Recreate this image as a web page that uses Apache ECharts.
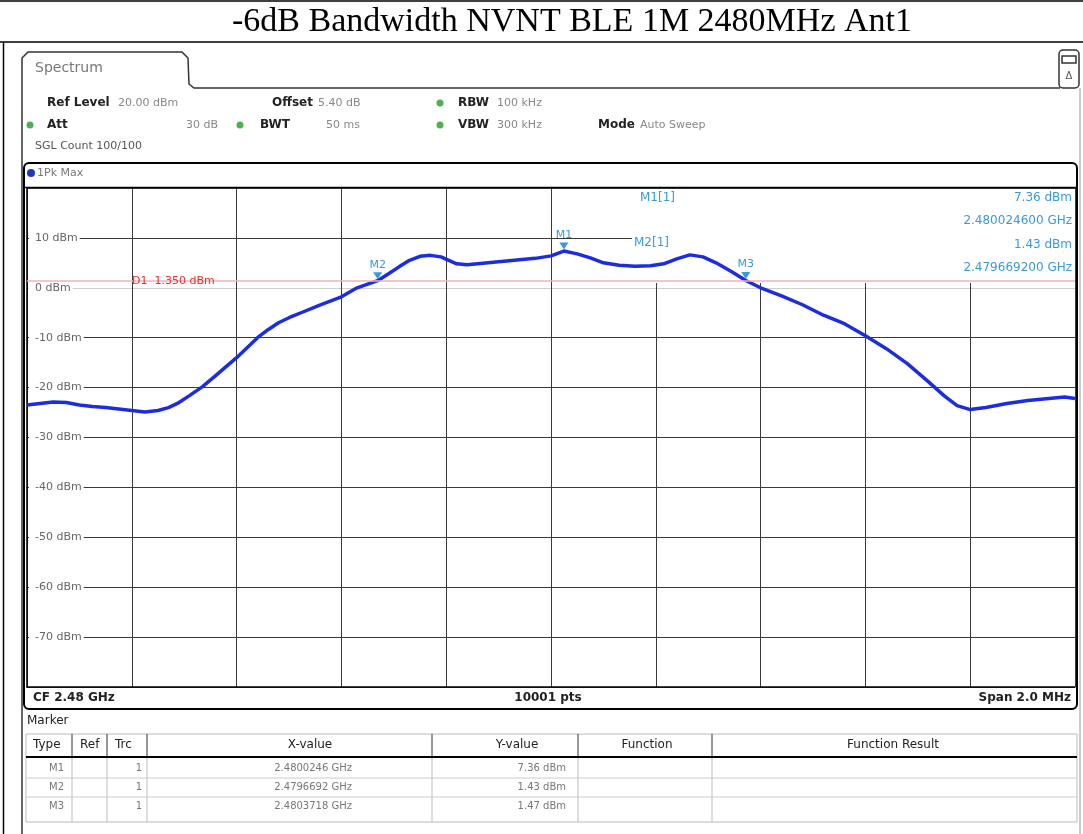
<!DOCTYPE html>
<html>
<head>
<meta charset="utf-8">
<script src="https://cdn.jsdelivr.net/npm/echarts@6/dist/echarts.min.js"></script>
<style>
html,body{margin:0;padding:0;background:#fff;}
#chart{width:1083px;height:834px;}
</style>
</head>
<body>
<div id="chart"></div>
<script>
// ---------- data ----------
const titleText = '-6dB Bandwidth NVNT BLE 1M 2480MHz Ant1';
const freqMHz = [2479.000,2479.025,2479.050,2479.075,2479.100,2479.125,2479.150,2479.175,2479.200,2479.225,
  2479.250,2479.270,2479.290,2479.310,2479.335,2479.360,2479.380,2479.400,2479.420,2479.440,
  2479.460,2479.480,2479.500,2479.530,2479.560,2479.600,2479.630,2479.6692,2479.690,2479.710,
  2479.730,2479.750,2479.770,2479.790,2479.805,2479.820,2479.840,2479.870,2479.900,2479.940,
  2479.970,2480.000,2480.0246,2480.050,2480.075,2480.100,2480.130,2480.160,2480.190,2480.215,
  2480.240,2480.265,2480.290,2480.315,2480.345,2480.3718,2480.400,2480.440,2480.480,2480.520,
  2480.560,2480.600,2480.640,2480.680,2480.720,2480.750,2480.775,2480.800,2480.830,2480.870,
  2480.910,2480.950,2480.980,2481.000];
const levelDbm = [-23.5,-23.2,-22.9,-23.0,-23.5,-23.8,-24.0,-24.3,-24.6,-24.9,
  -24.6,-24.0,-23.0,-21.6,-19.8,-17.6,-15.8,-14.0,-12.0,-10.0,
  -8.4,-7.0,-6.0,-4.7,-3.4,-1.8,0.0,1.43,2.8,4.2,
  5.5,6.3,6.5,6.2,5.5,4.8,4.6,4.9,5.2,5.6,
  5.9,6.4,7.36,6.8,6.0,5.0,4.5,4.3,4.4,4.8,
  5.8,6.6,6.2,5.0,3.2,1.47,0.0,-1.6,-3.4,-5.5,
  -7.2,-9.6,-12.2,-15.2,-18.8,-21.6,-23.6,-24.4,-24.0,-23.2,
  -22.6,-22.2,-21.9,-22.2];
const yTickValues = [10,0,-10,-20,-30,-40,-50,-60,-70];
const markerNames = ['M1','M2','M3'];
const markerFreqMHz = [2480.0246, 2479.6692, 2480.3718];
const markerLevel = [7.36, 1.43, 1.47];
const d1Level = 1.35;
const headerRow1 = [['Ref Level','20.00 dBm'],['Offset','5.40 dB'],['RBW','100 kHz']];
const headerRow2 = [['Att','30 dB'],['BWT','50 ms'],['VBW','300 kHz'],['Mode','Auto Sweep']];
const tableHeaders = ['Type','Ref','Trc','X-value','Y-value','Function','Function Result'];
const traceNo = ['1','1','1'];

// ---------- chart ----------
const chart = echarts.init(document.getElementById('chart'), null, {renderer:'canvas'});
const F = 'DejaVu Sans';
const blueTxt = '#3a9ad9';
const g = [];
function txt(x,y,t,o){ g.push(Object.assign({type:'text',x:x,y:y,z:10,style:Object.assign({text:t,font:'12px "DejaVu Sans"',fill:'#222',textVerticalAlign:'middle'},o||{})})); }
function ln(x1,y1,x2,y2,c,w,z){ g.push({type:'line',z:z||10,shape:{x1:x1,y1:y1,x2:x2,y2:y2},style:{stroke:c||'#000',lineWidth:w||1}}); }
function dot(x,y){ g.push({type:'circle',z:10,shape:{cx:x,cy:y,r:3.5},style:{fill:'#4fb04f'}}); }

// page frame and title
ln(0,1,1083,1,'#000',1.5);
ln(0,42,1083,42,'#000',1.5);
ln(3.5,42,3.5,834,'#000',1.5);
txt(572,22,titleText,{font:'34px "Liberation Serif"',textAlign:'center',fill:'#000'});

// spectrum tab
g.push({type:'polyline',z:10,shape:{points:[[22,834],[22,58],[28,52],[182,52],[188,58],[189,84],[194,88],[1060,88]]},style:{stroke:'#333',lineWidth:1.5,fill:null}});
ln(1080,88,1080,834,'#999',1);
g.push({type:'rect',z:10,shape:{x:1059,y:50,width:20,height:38,r:4},style:{stroke:'#333',lineWidth:1.5,fill:'#fff'}});
g.push({type:'rect',z:11,shape:{x:1062,y:56,width:14,height:7},style:{stroke:'#333',lineWidth:1.5,fill:'#fff'}});
txt(1069,76,'\u0394',{font:'10px "DejaVu Sans"',textAlign:'center',fill:'#555'});
txt(35,68,'Spectrum',{font:'14px "DejaVu Sans"',fill:'#777'});

// header rows
const r1x = [[47,118,'left'],[272,318,'left'],[458,497,'left']];
headerRow1.forEach((p,i)=>{ txt(r1x[i][0],103,p[0],{font:'bold 12px "DejaVu Sans"'}); txt(r1x[i][1],103,p[1],{font:'11px "DejaVu Sans"',fill:'#888',textAlign:r1x[i][2]}); });
dot(440,103);
const r2x = [[47,218,'right'],[260,360,'right'],[458,497,'left'],[598,640,'left']];
headerRow2.forEach((p,i)=>{ txt(r2x[i][0],125,p[0],{font:'bold 12px "DejaVu Sans"'}); txt(r2x[i][1],125,p[1],{font:'11px "DejaVu Sans"',fill:'#888',textAlign:r2x[i][2]}); });
dot(30,125); dot(240,125); dot(440,125);
txt(35,146,'SGL Count 100/100',{font:'11px "DejaVu Sans"',fill:'#555'});

// plot frame
g.push({type:'rect',z:12,shape:{x:24,y:163,width:1053,height:546,r:5},style:{stroke:'#000',lineWidth:2,fill:null}});
g.push({type:'circle',z:10,shape:{cx:31,cy:173,r:4},style:{fill:'#2233cc'}});
txt(37,173,'1Pk Max',{font:'11px "DejaVu Sans"',fill:'#777'});
ln(24,187.5,1077,187.5,'#000',1.5);
txt(33,698,'CF 2.48 GHz',{font:'bold 12px "DejaVu Sans"'});
txt(548,698,'10001 pts',{font:'bold 12px "DejaVu Sans"',textAlign:'center'});
txt(1071,698,'Span 2.0 MHz',{font:'bold 12px "DejaVu Sans"',textAlign:'right'});

// marker info box (covers grid, below trace)
g.push({type:'rect',z:1,shape:{x:632,y:189,width:443,height:94},style:{fill:'#fff'}});
const ghz = f => (f/1000).toFixed(9)+' GHz';
txt(640,198,'M1[1]',{fill:blueTxt});
txt(1072,198,markerLevel[0].toFixed(2)+' dBm',{fill:blueTxt,textAlign:'right'});
txt(1072,221,ghz(markerFreqMHz[0]),{fill:blueTxt,textAlign:'right'});
txt(634,243,'M2[1]',{fill:blueTxt});
txt(1072,245,markerLevel[1].toFixed(2)+' dBm',{fill:blueTxt,textAlign:'right'});
txt(1072,268,ghz(markerFreqMHz[1]),{fill:blueTxt,textAlign:'right'});

// marker table
txt(27,721,'Marker',{font:'12px "DejaVu Sans"'});
g.push({type:'rect',z:9,shape:{x:26,y:734,width:1051,height:88},style:{stroke:'#bbb',lineWidth:1,fill:null}});
const colSep = [72,107,147,432,578,712];
colSep.forEach(x=>ln(x,734,x,756,'#333',1));
colSep.forEach(x=>ln(x,757,x,822,'#bbb',1));
ln(26,757,1077,757,'#000',2);
ln(26,778,1077,778,'#ccc',1); ln(26,797,1077,797,'#ccc',1);
const hx = [[33,'left'],[80,'left'],[115,'left'],[310,'center'],[517,'center'],[647,'center'],[893,'center']];
tableHeaders.forEach((h,i)=>txt(hx[i][0],745,h,{font:'12px "DejaVu Sans"',textAlign:hx[i][1]}));
markerNames.forEach((m,i)=>{
  const y = 768 + i*19;
  txt(64,y,m,{font:'10px "DejaVu Sans"',fill:'#777',textAlign:'right'});
  txt(142,y,traceNo[i],{font:'10px "DejaVu Sans"',fill:'#777',textAlign:'right'});
  txt(352,y,(markerFreqMHz[i]/1000).toFixed(7)+' GHz',{font:'10px "DejaVu Sans"',fill:'#777',textAlign:'right'});
  txt(566,y,markerLevel[i].toFixed(2)+' dBm',{font:'10px "DejaVu Sans"',fill:'#777',textAlign:'right'});
});

// horizontal split-line colours from -80 up to 20 (0 dBm line is light)
const hColors = ['#3a3a3a','#3a3a3a','#3a3a3a','#3a3a3a','#3a3a3a','#3a3a3a','#3a3a3a','#3a3a3a','#cfcfcf','#3a3a3a','#3a3a3a'];

const option = {
  animation:false,
  backgroundColor:'#fff',
  grid:{left:27,right:8,top:188,bottom:147,containLabel:false},
  xAxis:{type:'value',min:2479,max:2481,interval:0.2,
    axisLine:{show:true,onZero:false,lineStyle:{color:'#000',width:1.5}},axisTick:{show:false},axisLabel:{show:false},
    splitLine:{show:true,lineStyle:{color:'#3a3a3a',width:1}}},
  yAxis:{type:'value',min:-80,max:20,interval:10,
    axisLine:{show:true,onZero:false,lineStyle:{color:'#000',width:1.5}},axisTick:{show:false},
    axisLabel:{inside:true,margin:2,color:'#666',fontFamily:F,fontSize:11,
      rich:{a:{backgroundColor:'#fff',padding:[1,2,1,6],color:'#666',fontFamily:F,fontSize:11}},
      formatter:v=> yTickValues.indexOf(v)>=0 ? '{a|'+v+' dBm}' : ''},
    splitLine:{show:true,lineStyle:{color:hColors,width:1}}},
  graphic:g,
  series:[{
    type:'line',z:3,showSymbol:false,
    data:freqMHz.map((f,i)=>[f,levelDbm[i]]),
    lineStyle:{color:'#1c2de0',width:3.5},
    markPoint:{
      symbol:'triangle',symbolRotate:180,symbolSize:[9,7],symbolOffset:[0,-5],
      itemStyle:{color:blueTxt},
      label:{show:true,position:'top',distance:2,color:blueTxt,fontFamily:F,fontSize:11,formatter:p=>p.name},
      data:markerNames.map((m,i)=>({name:m,coord:[markerFreqMHz[i],markerLevel[i]]}))
    },
    markLine:{
      silent:true,symbol:['none','none'],
      lineStyle:{color:'#f0b4b4',width:1.5,type:'solid'},
      label:{show:true,position:'insideStart',distance:[105,0],color:'#e03030',fontFamily:F,fontSize:11,
        formatter:'D1  '+d1Level.toFixed(3)+' dBm'},
      data:[{yAxis:d1Level}]
    }
  }]
};
chart.setOption(option);
</script>
</body>
</html>
